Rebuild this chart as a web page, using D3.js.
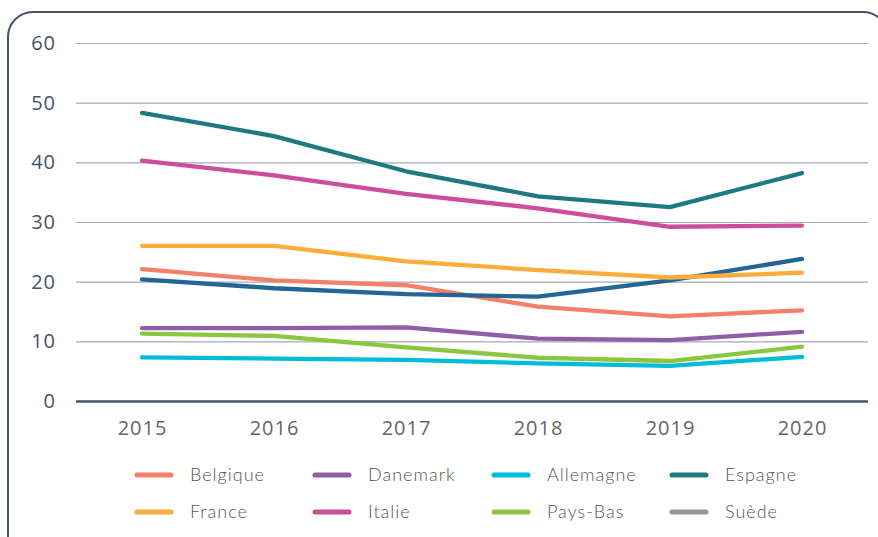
<!DOCTYPE html>
<html>
<head>
<meta charset="utf-8">
<script src="https://cdn.jsdelivr.net/npm/d3@7"></script>
<style>
  body { margin: 0; background: #fff; }
  svg { display: block; }
</style>
</head>
<body>
<div id="chart"></div>
<script>
const years = ["2015", "2016", "2017", "2018", "2019", "2020"];
const yTicks = [0, 10, 20, 30, 40, 50, 60];

const belgique  = [22.1, 20.2, 19.4, 15.8, 14.2, 15.2];
const danemark  = [12.2, 12.2, 12.35, 10.45, 10.2, 11.6];
const allemagne = [7.3, 7.1, 6.9, 6.3, 5.9, 7.4];
const espagne   = [48.3, 44.4, 38.5, 34.3, 32.5, 38.2];
const france    = [26.0, 26.0, 23.4, 21.95, 20.7, 21.5];
const italie    = [40.3, 37.8, 34.7, 32.3, 29.2, 29.4];
const paysBas   = [11.3, 10.9, 9.0, 7.25, 6.7, 9.1];
const suede     = [20.4, 18.9, 17.9, 17.5, 20.2, 23.8];

const legendNames = ["Belgique", "Danemark", "Allemagne", "Espagne", "France", "Italie", "Pays-Bas", "Suède"];
const legendColors = ["#f4806a", "#8e5ea8", "#00bcdb", "#1f7a80", "#fbad3c", "#cc4d9b", "#8cc63f", "#9c948f"];

// draw order (back to front)
const series = [
  { values: allemagne, color: "#00bcdb" },
  { values: paysBas, color: "#8cc63f" },
  { values: danemark, color: "#8e5ea8" },
  { values: belgique, color: "#f4806a" },
  { values: suede, color: "#236695" },
  { values: france, color: "#fbad3c" },
  { values: italie, color: "#cc4d9b" },
  { values: espagne, color: "#1f7a80" }
];

const W = 878, H = 537;
const plot = { left: 76, right: 868, top: 43, bottom: 401 };

const svg = d3.select("#chart").append("svg")
  .attr("width", W)
  .attr("height", H);

svg.append("rect")
  .attr("x", 8).attr("y", 12)
  .attr("width", 880).attr("height", 580)
  .attr("rx", 25)
  .attr("fill", "none")
  .attr("stroke", "#44546a")
  .attr("stroke-width", 2);

const x = d3.scalePoint()
  .domain(years)
  .range([plot.left, plot.right])
  .padding(0.5);

const y = d3.scaleLinear()
  .domain([0, 60])
  .range([plot.bottom, plot.top]);

// gridlines + y labels
const yAxis = svg.append("g")
  .attr("transform", `translate(${plot.left},0)`)
  .call(d3.axisLeft(y).tickValues(yTicks).tickSize(-(plot.right - plot.left)).tickPadding(20));
yAxis.select(".domain").remove();
yAxis.selectAll(".tick line")
  .attr("stroke", d => d === 0 ? "#44546a" : "#a3a9b8")
  .attr("stroke-width", d => d === 0 ? 2.5 : 1.2);
yAxis.selectAll(".tick text")
  .attr("fill", "#46536a")
  .style("font-family", "'Open Sans', sans-serif")
  .style("font-size", "20px")
  .style("letter-spacing", "1px");

const xAxis = svg.append("g")
  .attr("transform", `translate(0,${plot.bottom})`)
  .call(d3.axisBottom(x).tickSize(0).tickPadding(20));
xAxis.select(".domain").remove();
xAxis.selectAll(".tick text")
  .attr("fill", "#666")
  .style("font-family", "'Open Sans', sans-serif")
  .style("font-size", "20px")
  .style("letter-spacing", "1px");

const line = d3.line()
  .x((d, i) => x(years[i]))
  .y(d => y(d));

svg.append("g").selectAll("path")
  .data(series)
  .join("path")
  .attr("d", d => line(d.values))
  .attr("fill", "none")
  .attr("stroke", d => d.color)
  .attr("stroke-width", 4.3)
  .attr("stroke-linecap", "round")
  .attr("stroke-linejoin", "round");

// legend
const colX = [135, 313, 492, 670];
const rowY = [475, 512];
const legend = svg.append("g").selectAll("g")
  .data(legendNames)
  .join("g")
  .attr("transform", (d, i) => `translate(${colX[i % 4]},${rowY[Math.floor(i / 4)]})`);

legend.append("line")
  .attr("x1", 2).attr("x2", 36)
  .attr("stroke", (d, i) => legendColors[i])
  .attr("stroke-width", 5)
  .attr("stroke-linecap", "round");

legend.append("text")
  .attr("x", 55)
  .attr("dy", "0.35em")
  .attr("fill", "#555")
  .style("font-family", "Lato, sans-serif")
  .style("font-weight", 300)
  .style("font-size", "18px")
  .style("letter-spacing", "1px")
  .text(d => d);
</script>
</body>
</html>
